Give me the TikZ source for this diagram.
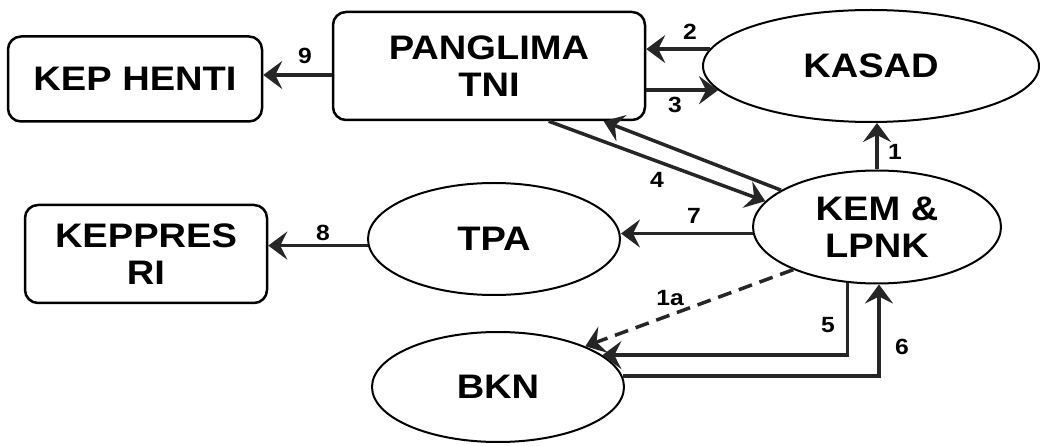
\documentclass[tikz,border=0pt]{standalone}
\usepackage{fontspec}
\setmainfont{Liberation Sans}[FakeStretch=1.12]
\usetikzlibrary{arrows.meta,shapes.geometric,calc}
\begin{document}
\begin{tikzpicture}[x=1pt,y=-1pt,
  box/.style={draw, line width=2.5pt, rounded corners=13pt, align=center, inner sep=0pt,
    font=\fontsize{34}{37}\selectfont\bfseries},
  ell/.style={draw, ellipse, line width=2pt, align=center, inner sep=0pt,
    font=\fontsize{34}{37}\selectfont\bfseries},
  conn/.style={line width=3.5pt, black!85, -{Stealth[length=19pt,width=28pt,inset=7pt]}},
  dconn/.style={conn, dash pattern=on 14pt off 8pt},
  num/.style={font=\fontsize{22}{24}\selectfont\bfseries, inner sep=0pt}]
\useasboundingbox (0,0) rectangle (1047,446);

\node[box, minimum width=254, minimum height=85] (kep) at (135,79) {KEP HENTI};
\node[box, minimum width=312, minimum height=108] (pang) at (489,66) {PANGLIMA\\TNI};
\node[ell, minimum width=336, minimum height=112] (kasad) at (871,66) {KASAD};
\node[ell, minimum width=248, minimum height=113] (kem) at (877,227) {KEM \&\\LPNK};
\node[ell, minimum width=252, minimum height=112] (tpa) at (494,239) {TPA};
\node[ell, minimum width=252, minimum height=110] (bkn) at (498,387) {BKN};
\node[box, minimum width=242, minimum height=98] (kpr) at (146,254) {KEPPRES\\RI};

% 9
\draw[conn] ($(pang.west)+(0,9)$) coordinate (p9) -- (p9 -| kep.east);
% 2
\draw[conn] (kasad.174) coordinate (k2) -- (k2 -| pang.east);
% 3
\draw[conn] (pang.east |- kasad.189) -- (kasad.189);
% 1
\draw[conn] (kem.north) -- (kem.north |- kasad.south);
% 4
\draw[conn] ($(pang.south west)+(217,0)$) -- (kem.167);
\draw[conn] (kem.159) -- ($(pang.south west)+(272,0)$);
% 7
\draw[conn] (kem.183) coordinate (k7) -- (k7 -| tpa.east);
% 8
\draw[conn] (tpa.183) coordinate (t8) -- (t8 -| kpr.east);
% 1a
\draw[dconn] (kem.207) -- (bkn.25);
% 5
\draw[conn] (kem.242) |- (bkn.17);
% 6
\draw[conn] (bkn.5) -| (kem.272);

\node[num] (n9) at (305,56) {9};
\node[num] (n2) at (690,32) {2};
\node[num] (n3) at (675,105) {3};
\node[num] (n1) at (895,152) {1};
\node[num] (n4) at (657,180) {4};
\node[num] (n7) at (694,216) {7};
\node[num] (n8) at (323,233) {8};
\node[num] (n1a) at (670,298) {1a};
\node[num] (n5) at (828,325) {5};
\node[num] (n6) at (902,347) {6};
\end{tikzpicture}
\end{document}
